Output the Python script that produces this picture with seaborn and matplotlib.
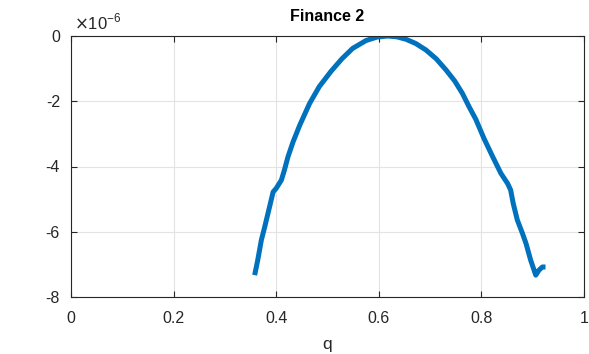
import matplotlib
matplotlib.use("Agg")
import matplotlib.pyplot as plt
import seaborn as sns
import pandas as pd

# Objective curve over q (values in units of 1e-6)
q = [0.358, 0.364, 0.371, 0.377, 0.387, 0.394, 0.400, 0.410, 0.416, 0.423,
     0.433, 0.446, 0.465, 0.484, 0.507, 0.528, 0.549, 0.575, 0.596, 0.617,
     0.635, 0.653, 0.672, 0.692, 0.712, 0.731, 0.748, 0.763, 0.776, 0.789,
     0.805, 0.822, 0.838, 0.851, 0.857, 0.862, 0.870, 0.880, 0.887, 0.896,
     0.906, 0.912, 0.919, 0.925]
value = [-7.33, -6.87, -6.26, -5.89, -5.24, -4.78, -4.67, -4.42, -4.11, -3.70,
         -3.24, -2.73, -2.07, -1.55, -1.08, -0.70, -0.38, -0.14, -0.035, 0.00,
         -0.025, -0.10, -0.23, -0.43, -0.70, -1.04, -1.38, -1.76, -2.17, -2.55,
         -3.14, -3.70, -4.21, -4.52, -4.72, -5.13, -5.64, -6.05, -6.36, -6.87,
         -7.33, -7.18, -7.08, -7.08]

x_ticks = [0, 0.2, 0.4, 0.6, 0.8, 1]
x_tick_labels = ["0", "0.2", "0.4", "0.6", "0.8", "1"]
y_ticks = [-8, -6, -4, -2, 0]
y_tick_labels = ["-8", "-6", "-4", "-2", "0"]

sns.set_theme(style="white")
plt.rcParams["font.family"] = ["Liberation Sans", "DejaVu Sans"]
plt.rcParams["axes.unicode_minus"] = False

df = pd.DataFrame({"q": q, "value": value})

fig = plt.figure(figsize=(5.89, 3.54), dpi=100)
ax = fig.add_axes([71 / 589, 1 - 297 / 354, (584 - 71) / 589, (297 - 36) / 354])

sns.lineplot(data=df, x="q", y="value", ax=ax, color="#0072BD",
             linewidth=3.6, estimator=None, sort=False)
ax.lines[0].set_solid_joinstyle("round")
ax.lines[0].set_solid_capstyle("butt")

ax.set_xlim(0, 1)
ax.set_ylim(-8, 0)
ax.set_xticks(x_ticks)
ax.set_xticklabels(x_tick_labels)
ax.set_yticks(y_ticks)
ax.set_yticklabels(y_tick_labels)

ax.grid(True, color="#e3e3e3", linewidth=0.8)
ax.set_axisbelow(True)
for s in ax.spines.values():
    s.set_color("#262626")
    s.set_linewidth(0.8)
    s.set_visible(True)

ax.tick_params(direction="in", length=4, width=0.8, color="#262626",
               labelsize=11.5, labelcolor="#262626", top=True, right=True,
               bottom=True, left=True)
ax.tick_params(axis="x", pad=10)
ax.tick_params(axis="y", pad=8)

ax.set_xlabel("q", fontsize=12.5, color="#262626", labelpad=8)
ax.set_ylabel("")
ax.set_title("Finance 2", fontsize=11.5, fontweight="bold", color="black", pad=11)

ax.text(0.006, 1.012, r"$\times$10$^{\mathregular{-6}}$", transform=ax.transAxes,
        fontsize=12, color="#262626", ha="left", va="bottom")

fig.savefig("out.png", dpi=100)
